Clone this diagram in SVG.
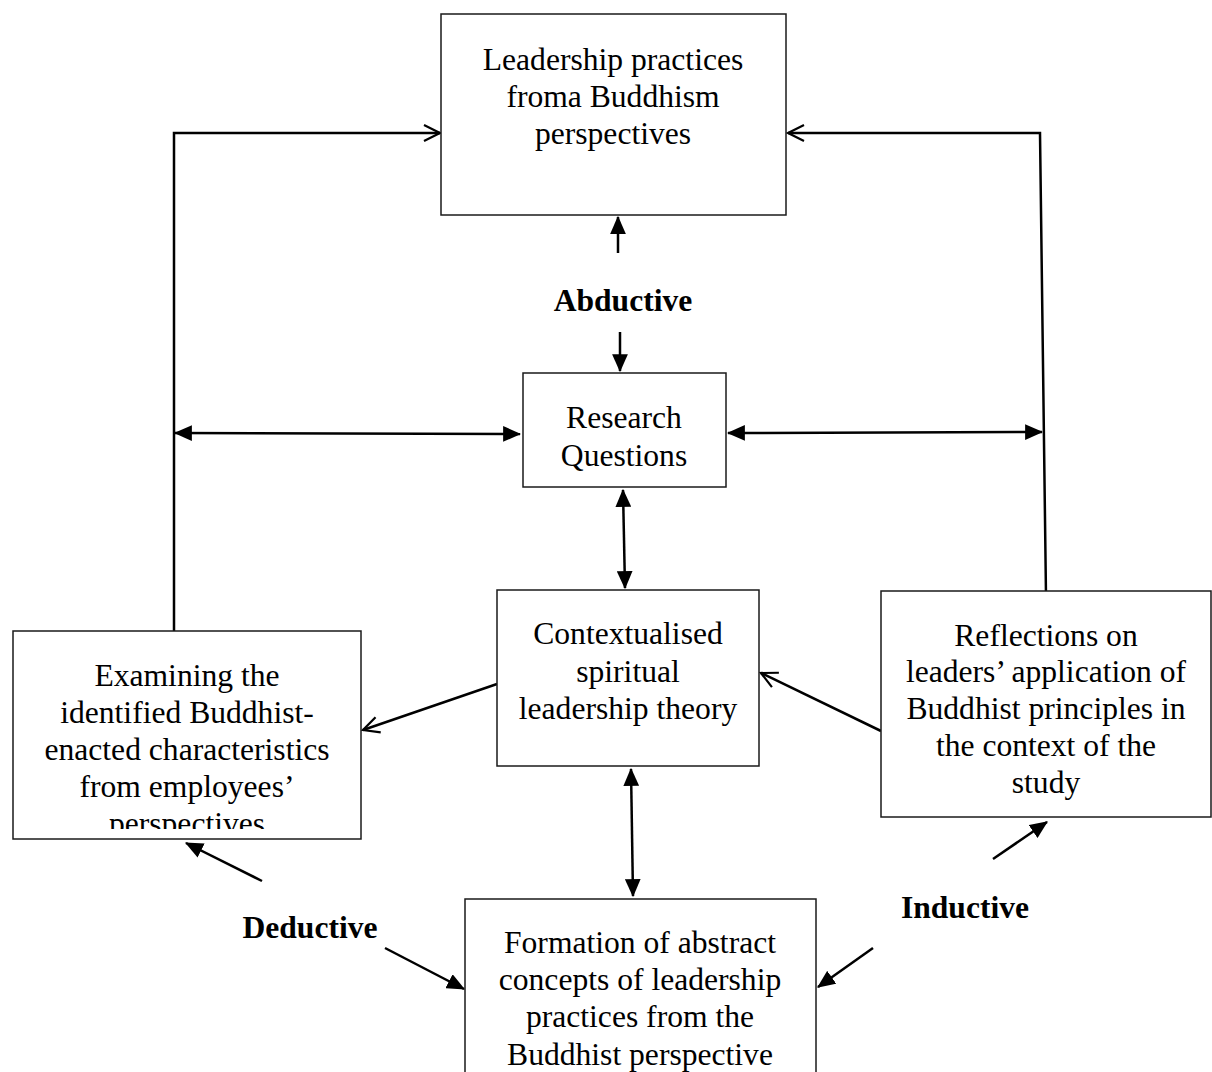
<svg xmlns="http://www.w3.org/2000/svg" width="1212" height="1072" viewBox="0 0 1212 1072">
<style>
.box{fill:#fff;stroke:#1a1a1a;stroke-width:1.5}
.t{font-family:"Liberation Serif","Times New Roman",serif;font-size:31.6px;fill:#000;text-anchor:middle}
.lbl{font-family:"Liberation Serif","Times New Roman",serif;font-size:31.6px;font-weight:bold;fill:#000;text-anchor:middle}
.c{fill:none;stroke:#000;stroke-width:2.5}
.f{marker-end:url(#fa)}
.fb{marker-start:url(#fa);marker-end:url(#fa)}
.o{marker-end:url(#oa)}
</style>
<defs>
<marker id="fa" markerUnits="userSpaceOnUse" markerWidth="18" markerHeight="16" viewBox="0 0 16 14" refX="15" refY="7" orient="auto-start-reverse">
<path d="M0,0 L16,7 L0,14 z" fill="#000"/>
</marker>
<marker id="oa" markerUnits="userSpaceOnUse" markerWidth="22" markerHeight="22" viewBox="-2 -2 22 22" refX="16" refY="8" orient="auto">
<path d="M0,0 L16,8 L0,16" fill="none" stroke="#000" stroke-width="2.2"/>
</marker>
<clipPath id="clipEx"><rect x="13" y="631" width="348" height="198"/></clipPath>
</defs>

<g id="connectors">
<polyline class="c o" points="174,631 174,133 440,133"/>
<polyline class="c o" points="1046,596 1040,133 788,133"/>
<line class="c f" x1="618" y1="253" x2="618" y2="217"/>
<line class="c f" x1="620" y1="332" x2="620" y2="371"/>
<line class="c fb" x1="175" y1="433" x2="520" y2="434"/>
<line class="c fb" x1="728" y1="433" x2="1042" y2="432"/>
<line class="c fb" x1="623" y1="490" x2="625" y2="588"/>
<line class="c fb" x1="631" y1="769" x2="633" y2="896"/>
<line class="c o" x1="497" y1="684" x2="363" y2="730"/>
<line class="c o" x1="881" y1="731" x2="761" y2="673"/>
<line class="c f" x1="262" y1="881" x2="186" y2="843"/>
<line class="c f" x1="385" y1="948" x2="464" y2="989"/>
<line class="c f" x1="993" y1="859" x2="1047" y2="822"/>
<line class="c f" x1="873" y1="948" x2="818" y2="987"/>
</g>

<g id="node-leadership">
<rect class="box" x="441" y="14" width="345" height="201"/>
<text class="t" x="613" y="70">Leadership practices</text>
<text class="t" x="613" y="107">froma Buddhism</text>
<text class="t" x="613" y="144">perspectives</text>
</g>

<g id="node-research">
<rect class="box" x="523" y="373" width="203" height="114"/>
<text class="t" x="624" y="428">Research</text>
<text class="t" x="624" y="466">Questions</text>
</g>

<g id="node-contextualised">
<rect class="box" x="497" y="590" width="262" height="176"/>
<text class="t" x="628" y="644">Contextualised</text>
<text class="t" x="628" y="682">spiritual</text>
<text class="t" x="628" y="719">leadership theory</text>
</g>

<g id="node-examining">
<rect class="box" x="13" y="631" width="348" height="208"/>
<g clip-path="url(#clipEx)">
<text class="t" x="187" y="686">Examining the</text>
<text class="t" x="187" y="723">identified Buddhist-</text>
<text class="t" x="187" y="760">enacted characteristics</text>
<text class="t" x="187" y="797">from employees’</text>
<text class="t" x="187" y="834">perspectives</text>
</g>
</g>

<g id="node-reflections">
<rect class="box" x="881" y="591" width="330" height="226"/>
<text class="t" x="1046" y="646">Reflections on</text>
<text class="t" x="1046" y="682">leaders’ application of</text>
<text class="t" x="1046" y="719">Buddhist principles in</text>
<text class="t" x="1046" y="756">the context of the</text>
<text class="t" x="1046" y="793">study</text>
</g>

<g id="node-formation">
<rect class="box" x="465" y="899" width="351" height="200"/>
<text class="t" x="640" y="953">Formation of abstract</text>
<text class="t" x="640" y="990">concepts of leadership</text>
<text class="t" x="640" y="1027">practices from the</text>
<text class="t" x="640" y="1065">Buddhist perspective</text>
</g>

<g id="labels">
<text class="lbl" x="623" y="311">Abductive</text>
<text class="lbl" x="310" y="938">Deductive</text>
<text class="lbl" x="965" y="918">Inductive</text>
</g>
</svg>
